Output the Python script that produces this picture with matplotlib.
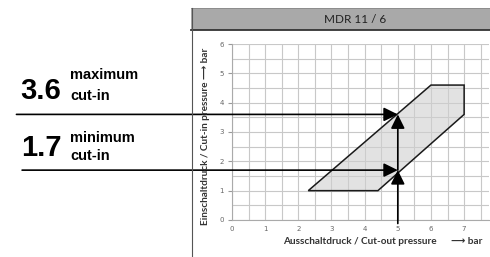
import matplotlib.pyplot as plt
from matplotlib.patches import Polygon, Rectangle
from matplotlib.lines import Line2D

# switching range of the pressure switch (cut-out vs cut-in, bar)
range_x = [2.3, 4.4, 7.0, 7.0, 6.0]
range_y = [1.0, 1.0, 3.6, 4.6, 4.6]

cut_out = 5
max_cut_in = 3.6
min_cut_in = 1.7

x_ticks = [0, 1, 2, 3, 4, 5, 6, 7]
y_ticks = [0, 1, 2, 3, 4, 5, 6]

W, H = 490, 257
fig = plt.figure(figsize=(W / 100, H / 100), dpi=100)


def fx(px):
    return px / W


def fy(py):
    return 1 - py / H


# panel frame and header
fig.add_artist(Rectangle((fx(191), fy(30)), 1, fy(8) - fy(30), transform=fig.transFigure,
                         facecolor='#a9a9a9', edgecolor='none'))
fig.add_artist(Line2D([fx(191), 1], [fy(30), fy(30)], transform=fig.transFigure, color='#333333', lw=1.3))
fig.add_artist(Line2D([fx(191), 1], [fy(8), fy(8)], transform=fig.transFigure, color='#888888', lw=0.6))
fig.add_artist(Line2D([fx(192), fx(192)], [fy(8), 0], transform=fig.transFigure, color='#555555', lw=0.8))
fig.text(fx(355), fy(19.5), 'MDR 11 / 6', ha='center', va='center', fontsize=8.5,
         family=['Lato', 'DejaVu Sans'], color='#222222')

ax = fig.add_axes([fx(232), fy(220), fx(489) - fx(232), fy(44) - fy(220)])
ax.set_xlim(0, 7.75)
ax.set_ylim(0, 6)

ax.set_xticks(x_ticks)
ax.set_yticks(y_ticks)
ax.set_xticks([v + 0.5 for v in x_ticks], minor=True)
ax.set_yticks([v + 0.5 for v in y_ticks[:-1]], minor=True)
ax.grid(True, which='both', color='#c8c8c8', lw=0.8)
ax.set_axisbelow(True)
ax.tick_params(axis='both', which='major', labelsize=5, labelcolor='#666666', color='#999999')
ax.tick_params(axis='x', which='both', length=0, pad=4)
ax.tick_params(axis='y', which='major', length=3, pad=3)
ax.tick_params(axis='y', which='minor', length=0)
for side in ['top', 'right']:
    ax.spines[side].set_visible(False)
for side in ['left', 'bottom']:
    ax.spines[side].set_color('#aaaaaa')
    ax.spines[side].set_linewidth(0.8)

ax.add_patch(Polygon(list(zip(range_x, range_y)), closed=True, facecolor='#d0d0d0', alpha=0.6,
                     edgecolor='none', zorder=2))
ax.add_patch(Polygon(list(zip(range_x, range_y)), closed=True, facecolor='none',
                     edgecolor='#1a1a1a', lw=1.1, zorder=3))

arrow = dict(arrowstyle='-|>,head_length=0.85,head_width=0.42', color='black', lw=1.2,
             shrinkA=0, shrinkB=0, mutation_scale=10)
ax.annotate('', xy=(cut_out, max_cut_in), xytext=(-6.5, max_cut_in), arrowprops=arrow,
            annotation_clip=False, zorder=4)
ax.annotate('', xy=(cut_out, min_cut_in), xytext=(-6.33, min_cut_in), arrowprops=arrow,
            annotation_clip=False, zorder=4)
ax.annotate('', xy=(cut_out, min_cut_in), xytext=(cut_out, -0.12), arrowprops=arrow,
            annotation_clip=False, zorder=4)
ax.annotate('', xy=(cut_out, max_cut_in), xytext=(cut_out, min_cut_in), arrowprops=arrow,
            annotation_clip=False, zorder=4)

bold = dict(family=['Liberation Sans', 'DejaVu Sans'], fontweight='bold', color='black')
fig.text(fx(20), fy(99), f'{max_cut_in}', fontsize=21, **bold)
fig.text(fx(70), fy(79), 'maximum', fontsize=10.5, **bold)
fig.text(fx(70), fy(100), 'cut-in', fontsize=10.5, **bold)
fig.text(fx(21), fy(156), f'{min_cut_in}', fontsize=21, **bold)
fig.text(fx(70), fy(142), 'minimum', fontsize=10.5, **bold)
fig.text(fx(70), fy(160), 'cut-in', fontsize=10.5, **bold)

lab = dict(family=['Lato', 'DejaVu Sans'], fontweight='bold', color='#333333', fontsize=7.2)
fig.text(fx(205), fy(136), 'Einschaltdruck / Cut-in pressure \u27f6 bar', rotation=90,
         ha='center', va='center', **lab)
fig.text(fx(360), fy(242), 'Ausschaltdruck / Cut-out pressure', ha='center', va='center', **lab)
fig.text(fx(451), fy(242), '\u27f6 bar', ha='left', va='center', **lab)

fig.savefig('out.png', dpi=100)
